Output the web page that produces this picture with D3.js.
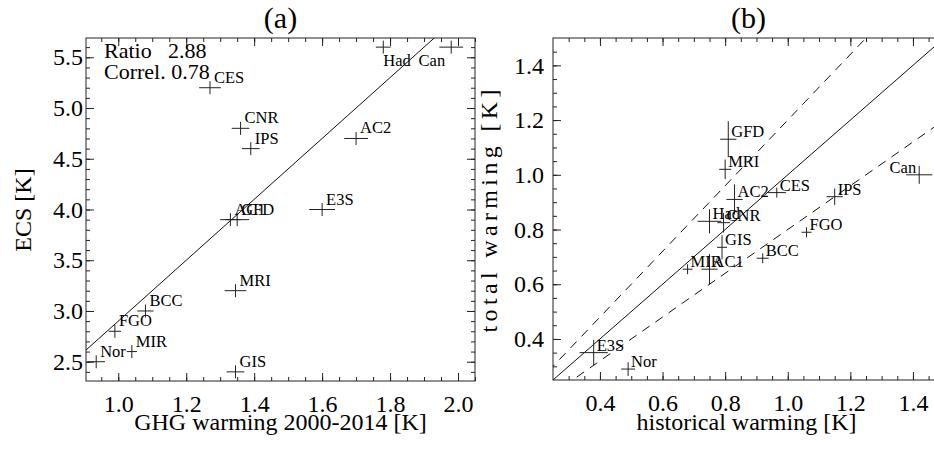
<!DOCTYPE html>
<html><head><meta charset="utf-8">
<script src="https://cdn.jsdelivr.net/npm/d3@7"></script>
<style>
html,body{margin:0;padding:0;background:#fff;}
svg text{font-family:"Liberation Serif","Times New Roman",serif;fill:#000;}
</style></head>
<body>
<svg id="chart" width="934" height="449"></svg>
<script>
// ---------- DATA ----------
// Panel (a)
const modelsA = ["AC1","AC2","BCC","CES","CNR","E3S","FGO","GFD","GIS","Had","IPS","MIR","MRI","Nor","Can"];
const ghgWarming = [1.33,1.70,1.08,1.27,1.36,1.60,0.99,1.35,1.345,1.78,1.39,1.04,1.345,0.935,1.98];
const ghgWarmingErr = [0.03,0.035,0.024,0.032,0.026,0.038,0.018,0.035,0.026,0.022,0.026,0.015,0.032,0.026,0.035];
const ecs = [3.9,4.7,3.0,5.2,4.8,4.0,2.8,3.9,2.4,5.6,4.6,2.6,3.2,2.5,5.6];
const fitLineA = {x:[0.905,2.05], slope:3.0, intercept:-0.1};
const statsLabels = [["Ratio","2.88"],["Correl.","0.78"]];
const xTicksA = [1.0,1.2,1.4,1.6,1.8,2.0];
const yTicksA = [2.5,3.0,3.5,4.0,4.5,5.0,5.5];

// Panel (b)
const modelsB = ["GFD","MRI","AC2","CES","Had","CNR","GIS","MIR","AC1","BCC","FGO","IPS","Can","E3S","Nor"];
const histWarming = [0.81,0.80,0.83,0.965,0.75,0.795,0.79,0.68,0.75,0.92,1.06,1.15,1.42,0.38,0.49];
const histWarmingErr = [0.026,0.019,0.026,0.029,0.038,0.02,0.016,0.016,0.026,0.019,0.016,0.026,0.042,0.045,0.022];
const totalWarming = [1.13,1.02,0.91,0.935,0.83,0.825,0.735,0.655,0.655,0.695,0.79,0.92,1.0,0.35,0.29];
const totalWarmingErr = [0.066,0.036,0.055,0.018,0.044,0.036,0.044,0.018,0.055,0.018,0.018,0.03,0.033,0.047,0.025];
const ratioSlopesB = [1.0,1.2,0.8];
const xTicksB = [0.4,0.6,0.8,1.0,1.2,1.4];
const yTicksB = [0.4,0.6,0.8,1.0,1.2,1.4];

// ---------- LAYOUT ----------
const svg = d3.select("#chart");
const AX = "#222";
const fmt = d3.format(".1f");

function range(a,b,s){const r=[];for(let v=a;v<=b+1e-9;v+=s)r.push(+v.toFixed(4));return r;}

function framePanel(g, x, y, xt, yt, xMinor, yMinor, leftPad){
  const [x0,x1]=x.range(), [y0,y1]=y.range();
  const W=x1-x0, H=y0-y1;
  g.append("g").attr("transform",`translate(0,${y0})`)
    .call(d3.axisBottom(x).tickValues(xMinor).tickSize(-4).tickFormat(""));
  g.append("g").attr("class","lbl").attr("transform",`translate(0,${y0})`)
    .call(d3.axisBottom(x).tickValues(xt).tickSize(-8).tickPadding(14).tickFormat(fmt));
  g.append("g").attr("transform",`translate(0,${y1})`)
    .call(d3.axisTop(x).tickValues(xMinor).tickSize(-4).tickFormat(""));
  g.append("g").attr("transform",`translate(0,${y1})`)
    .call(d3.axisTop(x).tickValues(xt).tickSize(-8).tickFormat(""));
  g.append("g").attr("transform",`translate(${x0},0)`)
    .call(d3.axisLeft(y).tickValues(yMinor).tickSize(-4).tickFormat(""));
  g.append("g").attr("class","lbl").attr("transform",`translate(${x0},0)`)
    .call(d3.axisLeft(y).tickValues(yt).tickSize(-8).tickPadding(leftPad).tickFormat(fmt));
  g.append("g").attr("transform",`translate(${x1},0)`)
    .call(d3.axisRight(y).tickValues(yMinor).tickSize(-4).tickFormat(""));
  g.append("g").attr("transform",`translate(${x1},0)`)
    .call(d3.axisRight(y).tickValues(yt).tickSize(-8).tickFormat(""));
  g.selectAll(".domain").remove();
  g.selectAll(".tick line").attr("stroke",AX).attr("stroke-width",1);
  g.selectAll(".lbl text").attr("font-size",24).attr("font-family","Liberation Serif").attr("fill","#000");
  g.append("rect").attr("x",x0).attr("y",y1).attr("width",W).attr("height",H)
    .attr("fill","none").attr("stroke",AX).attr("stroke-width",1);
}

function clip(id,x,y){
  const [x0,x1]=x.range(), [y0,y1]=y.range();
  svg.append("clipPath").attr("id",id).append("rect")
    .attr("x",x0).attr("y",y1).attr("width",x1-x0).attr("height",y0-y1);
}

// ---------- PANEL A ----------
const xA = d3.scaleLinear().domain([0.905,2.05]).range([86,475]);
const yA = d3.scaleLinear().domain([2.31,5.69]).range([381,38]);
const gA = svg.append("g");
framePanel(gA,xA,yA,xTicksA,yTicksA,range(0.95,2.05,0.05),range(2.4,5.6,0.1),3);
clip("clipA",xA,yA);
const pA = gA.append("g").attr("clip-path","url(#clipA)");
pA.append("path")
  .attr("d",d3.line().x(d=>xA(d)).y(d=>yA(fitLineA.slope*d+fitLineA.intercept))(fitLineA.x))
  .attr("fill","none").attr("stroke","#111").attr("stroke-width",1);

const labelOffA = {Had:[0,19,"start"],Can:[-6,19,"end"]};
modelsA.forEach((m,i)=>{
  const cx=xA(ghgWarming[i]), cy=yA(ecs[i]);
  const hx=Math.max(xA(ghgWarming[i]+ghgWarmingErr[i])-cx,5);
  pA.append("line").attr("x1",cx-hx).attr("x2",cx+hx).attr("y1",cy).attr("y2",cy).attr("stroke","#222").attr("stroke-width",1);
  pA.append("line").attr("x1",cx).attr("x2",cx).attr("y1",cy-6.5).attr("y2",cy+6.5).attr("stroke","#222").attr("stroke-width",1);
  const o = labelOffA[m]||[4,-5,"start"];
  gA.append("text").attr("x",cx+o[0]).attr("y",cy+o[1]).attr("text-anchor",o[2])
    .attr("font-size",16.5).text(m);
});
statsLabels.forEach((s,i)=>{
  const t=gA.append("text").attr("x",104).attr("y",58+21*i).attr("font-size",22);
  if(i===0){ t.text(s[0]); gA.append("text").attr("x",168).attr("y",58).attr("font-size",22).text(s[1]); }
  else t.text(s[0]+" "+s[1]);
});
gA.append("text").attr("x",280.5).attr("y",28).attr("text-anchor","middle").attr("font-size",30).text("(a)");
gA.append("text").attr("x",280.5).attr("y",430).attr("text-anchor","middle").attr("font-size",24).text("GHG warming 2000-2014 [K]");
gA.append("text").attr("transform","translate(31,210) rotate(-90)").attr("text-anchor","middle").attr("font-size",24).text("ECS [K]");

// ---------- PANEL B ----------
const xB = d3.scaleLinear().domain([0.25,1.5]).range([553,944.25]);
const yB = d3.scaleLinear().domain([0.25,1.5]).range([380,38]);
const gB = svg.append("g");
framePanel(gB,xB,yB,xTicksB,yTicksB,range(0.3,1.45,0.05),range(0.3,1.45,0.05),9);
clip("clipB",xB,yB);
const pB = gB.append("g").attr("clip-path","url(#clipB)");
ratioSlopesB.forEach((k,i)=>{
  pB.append("path")
    .attr("d",d3.line().x(d=>xB(d)).y(d=>yB(k*d))([0.2,1.5]))
    .attr("fill","none").attr("stroke","#111").attr("stroke-width",1)
    .attr("stroke-dasharray",i===0?null:"9,7");
});
const labelOffB = {Can:[-3,-2,"end"]};
modelsB.forEach((m,i)=>{
  const cx=xB(histWarming[i]), cy=yB(totalWarming[i]);
  const hx=Math.max(xB(histWarming[i]+histWarmingErr[i])-cx,5);
  const hy=Math.max(cy-yB(totalWarming[i]+totalWarmingErr[i]),5);
  pB.append("line").attr("x1",cx-hx).attr("x2",cx+hx).attr("y1",cy).attr("y2",cy).attr("stroke","#222").attr("stroke-width",1);
  pB.append("line").attr("x1",cx).attr("x2",cx).attr("y1",cy-hy).attr("y2",cy+hy).attr("stroke","#222").attr("stroke-width",1);
  const o = labelOffB[m]||[3,-2,"start"];
  gB.append("text").attr("x",cx+o[0]).attr("y",cy+o[1]).attr("text-anchor",o[2])
    .attr("font-size",16.5).text(m);
});
gB.append("text").attr("x",748.5).attr("y",28).attr("text-anchor","middle").attr("font-size",30).text("(b)");
gB.append("text").attr("x",746.5).attr("y",430).attr("text-anchor","middle").attr("font-size",24).text("historical warming [K]");
gB.append("text").attr("transform","translate(497,211) rotate(-90)").attr("text-anchor","middle").attr("font-size",24)
  .attr("textLength",243).attr("lengthAdjust","spacing").text("total warming [K]");
</script>
</body></html>
